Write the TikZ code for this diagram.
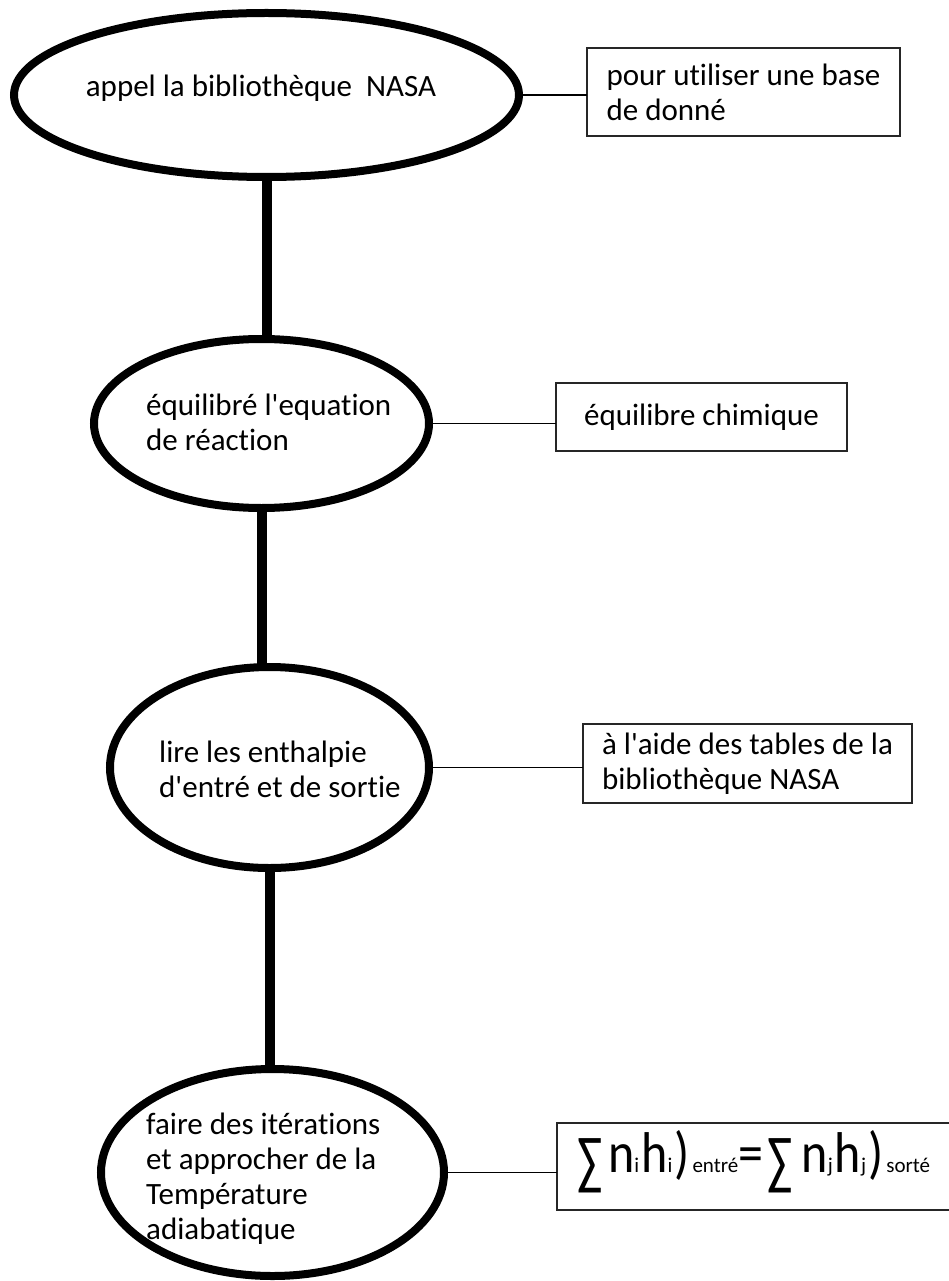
\documentclass[tikz,border=0pt]{standalone}
\usepackage{fontspec}
\setmainfont{Carlito}[Ligatures={NoCommon}]
\usetikzlibrary{shapes.geometric}
\newcommand\smallsub[1]{{\fontsize{21}{21}\selectfont #1}}
\newcommand\bigglyph[1]{\scalebox{1}[1.15]{\fontsize{50}{50}\selectfont #1}}
\newcommand\bigsum{\raisebox{-10pt}{\scalebox{0.9}[1.25]{\fontsize{52}{52}\selectfont ∑}}}
\begin{document}
\begin{tikzpicture}[x=1pt,y=-1pt,
  oval/.style={ellipse, draw, line width=8pt, inner sep=0pt, outer sep=0pt},
  note/.style={rectangle, draw=black!85, line width=1.6pt, inner sep=0pt, outer sep=0pt, align=left},
  label text/.style={inner sep=0pt, align=left},
  link/.style={line width=1.8pt},
  trunk/.style={line width=10pt},
  every node/.style={font=\fontsize{31}{35}\selectfont}]
\useasboundingbox (0,0) rectangle (949,1281);

% process ellipses
\node[oval, minimum width=505pt, minimum height=164pt] (e1) at (266.5,95) {};
\node[oval, minimum width=335pt, minimum height=169pt] (e2) at (261.5,423.5) {};
\node[oval, minimum width=319pt, minimum height=201pt] (e3) at (269.5,767.5) {};
\node[oval, minimum width=343pt, minimum height=207pt] (e4) at (272.5,1172.5) {};

% texts inside ellipses
\node[label text] (t1) at (261,88) {appel la bibliothèque\ \ NASA};
\node[label text, anchor=west] (t2) at (146,422) {équilibré l\textquotesingle equation\\de réaction};
\node[label text, anchor=west] (t3) at (159,769) {lire les enthalpie\\d\textquotesingle entré et de sortie};
\node[label text, anchor=west] (t4) at (146,1179) {faire des itérations\\et approcher de la\\Température\\adiabatique};

% side notes
\node[note, minimum width=313pt, minimum height=88pt] (b1) at (743.5,92) {pour utiliser une base\\de donné};
\node[note, minimum width=291pt, minimum height=68pt] (b2) at (701.5,417) {équilibre chimique};
\node[note, minimum width=329pt, minimum height=79pt] (b3) at (747.5,763.5) {à l\textquotesingle aide des tables de la\\bibliothèque NASA};
\node[note, minimum width=394pt, minimum height=87pt] (b4) at (754,1166.5)
  {\raisebox{-6pt}[0pt][0pt]{\bigsum\hspace{5pt}\bigglyph{n}\smallsub{i}\hspace{2pt}\bigglyph{h}\smallsub{i}\hspace{2pt}\bigglyph{)}\hspace{3pt}\smallsub{entré}\bigglyph{=}\hspace{4pt}\bigsum\hspace{9pt}\bigglyph{n}\smallsub{j}\hspace{2pt}\bigglyph{h}\smallsub{j}\hspace{2pt}\bigglyph{)}\hspace{3pt}\smallsub{sorté}}};

% vertical trunk
\draw[trunk] (e1.south) -- (e1.south |- e2.north);
\draw[trunk] (e2.south) -- (e2.south |- e3.north);
\draw[trunk] (e3.south) -- (e3.south |- e4.north);

% side connectors
\draw[link] (e1.east) -- (e1.east -| b1.west);
\draw[link] (e2.east) -- (e2.east -| b2.west);
\draw[link] (e3.east) -- (e3.east -| b3.west);
\draw[link] (e4.east) -- (e4.east -| b4.west);
\end{tikzpicture}
\end{document}
